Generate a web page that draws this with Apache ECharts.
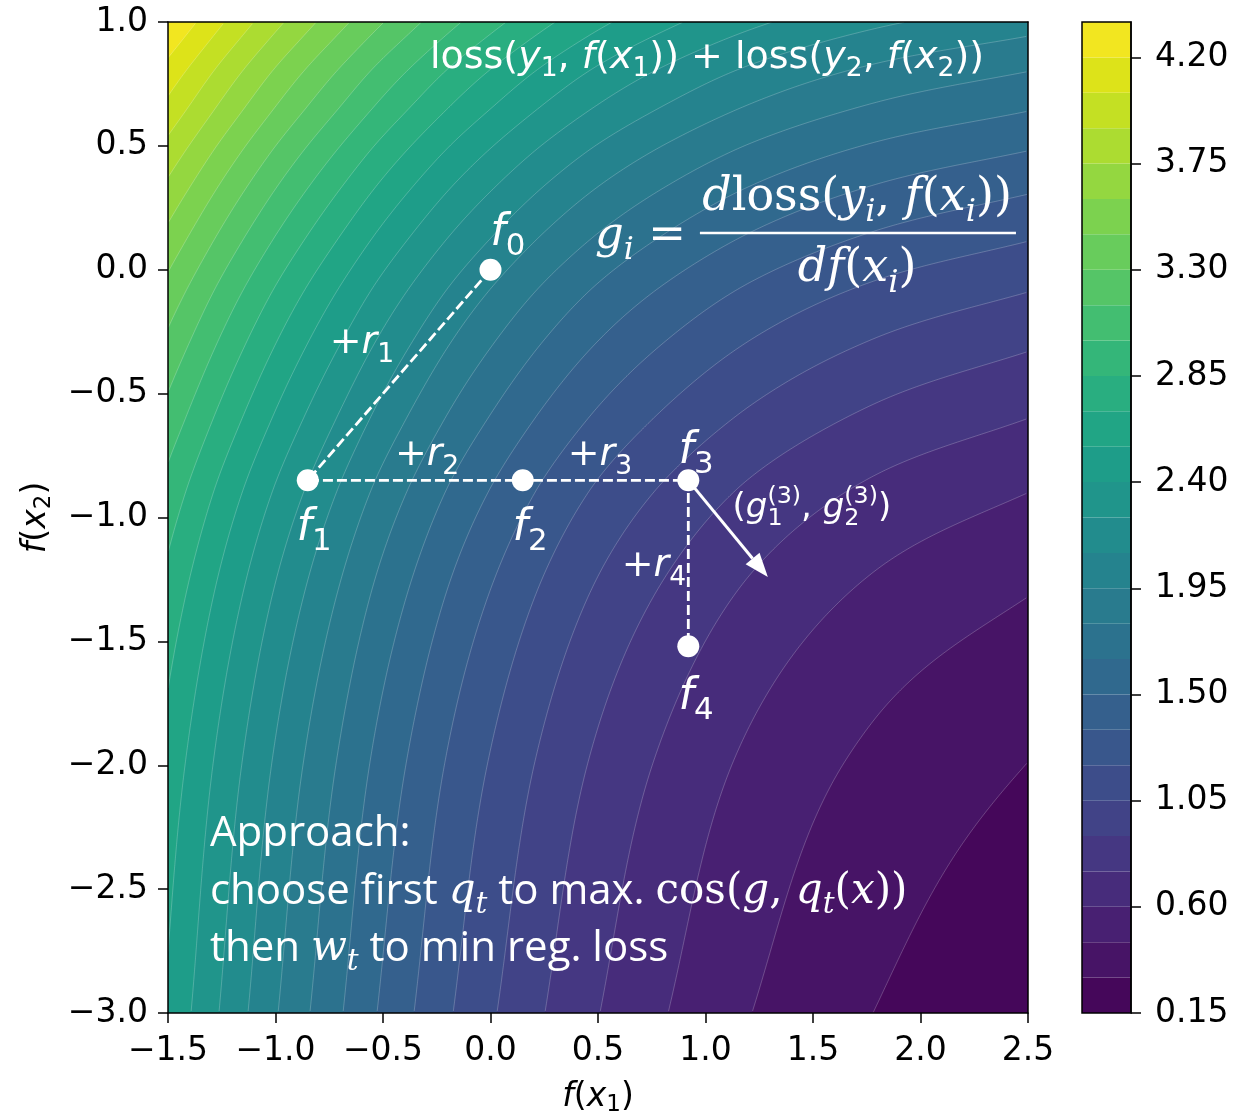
<!DOCTYPE html>
<html><head><meta charset="utf-8">
<script src="https://cdn.jsdelivr.net/npm/echarts@6/dist/echarts.min.js"></script>
<style>html,body{margin:0;padding:0;background:#fff}#c{width:1255px;height:1113px}</style>
</head><body><div id="c"></div>
<script>
// ---------------- data ----------------
// contour level boundaries (colour bar)
const contourLevels = [0.15,0.30,0.45,0.60,0.75,0.90,1.05,1.20,1.35,1.50,1.65,1.80,1.95,2.10,2.25,2.40,2.55,2.70,2.85,3.00,3.15,3.30,3.45,3.60,3.75,3.90,4.05,4.20,4.35];
const colorbarTicks = [0.15,0.60,1.05,1.50,1.95,2.40,2.85,3.30,3.75,4.20];
// where each contour level crosses the bottom edge f(x2) = -3 (value of f(x1))
const bottomEdgeLevels = [0.30,0.45,0.60,0.75,0.90,1.05,1.20,1.35,1.50,1.65,1.80,1.95,2.10,2.25,2.40];
const bottomEdgeX      = [1.779,1.216,0.826,0.509,0.253,0.030,-0.174,-0.356,-0.528,-0.686,-0.840,-0.988,-1.128,-1.263,-1.393];
// where each contour level crosses the right edge f(x1) = 2.5 (value of f(x2))
const rightEdgeLevels = [0.30,0.45,0.60,0.75,0.90,1.05,1.20,1.35,1.50,1.65,1.80,1.95];
const rightEdgeY      = [-1.987,-1.32,-0.90,-0.60,-0.33,-0.09,0.115,0.305,0.48,0.64,0.80,0.943];
// loss value in the bottom-right corner (2.5, -3)
const cornerLoss = 0.18;
// boosting steps f0..f4
const stepNames = ['0','1','2','3','4'];
const stepX = [0.0,-0.85,0.15,0.92,0.92];
const stepY = [0.0,-0.85,-0.85,-0.85,-1.52];
// gradient arrow (from f3)
const arrowFrom = [0.92,-0.85];
const arrowTo = [1.29,-1.24];
// axes
const xTicks = [-1.5,-1.0,-0.5,0.0,0.5,1.0,1.5,2.0,2.5];
const yTicks = [-3.0,-2.5,-2.0,-1.5,-1.0,-0.5,0.0,0.5,1.0];

// ---------------- colour map (viridis) ----------------
const viridisStops = ['#440154','#471365','#482475','#463480','#414487','#3b528b','#355f8d','#2f6c8e','#2a788e','#25848e','#21918c','#1e9c89','#22a884','#2fb47c','#44bf70','#5ec962','#7ad151','#9bd93c','#bddf26','#dfe318','#fde725'];
function hex2rgb(h){return [parseInt(h.substr(1,2),16),parseInt(h.substr(3,2),16),parseInt(h.substr(5,2),16)];}
const vrgb = viridisStops.map(hex2rgb);
function viridis(t){
  t=Math.max(0,Math.min(1,t));
  const p=t*(vrgb.length-1), i=Math.min(Math.floor(p),vrgb.length-2), f=p-i;
  const c=[0,1,2].map(k=>Math.round(vrgb[i][k]*(1-f)+vrgb[i+1][k]*f));
  return 'rgb('+c.join(',')+')';
}
const lvMin = contourLevels[0], lvMax = contourLevels[contourLevels.length-1];
function bandColor(lo, hi){ return viridis(((lo+hi)/2 - lvMin)/(lvMax-lvMin)); }

// ---------------- edge profiles -> contour geometry (sum of two per-point losses) ----------------
function makeMono(xs, ys){
  const n=xs.length, d=[], m=new Array(n);
  for(let i=0;i<n-1;i++) d.push((ys[i+1]-ys[i])/(xs[i+1]-xs[i]));
  m[0]=d[0]; m[n-1]=d[n-2];
  for(let i=1;i<n-1;i++) m[i]=(d[i-1]*d[i]<=0)?0:(d[i-1]+d[i])/2;
  for(let i=0;i<n-1;i++){
    if(d[i]===0){m[i]=0;m[i+1]=0;continue;}
    const a=m[i]/d[i], b=m[i+1]/d[i], s=a*a+b*b;
    if(s>9){const t=3/Math.sqrt(s); m[i]=t*a*d[i]; m[i+1]=t*b*d[i];}
  }
  return function(x){
    if(x<=xs[0]) return ys[0]+m[0]*(x-xs[0]);
    if(x>=xs[n-1]) return ys[n-1]+m[n-1]*(x-xs[n-1]);
    let lo=0, hi=n-1;
    while(hi-lo>1){const mid=(lo+hi)>>1; if(xs[mid]<=x) lo=mid; else hi=mid;}
    const h=xs[hi]-xs[lo], t=(x-xs[lo])/h, t2=t*t, t3=t2*t;
    return (2*t3-3*t2+1)*ys[lo]+(t3-2*t2+t)*h*m[lo]+(-2*t3+3*t2)*ys[hi]+(t3-t2)*h*m[hi];
  };
}
const X0=xTicks[0], X1=xTicks[xTicks.length-1], Y0=yTicks[0], Y1=yTicks[yTicks.length-1];
const bx=[], bv=[];
for(let i=bottomEdgeX.length-1;i>=0;i--){bx.push(bottomEdgeX[i]); bv.push(bottomEdgeLevels[i]);}
bx.push(X1); bv.push(cornerLoss);
const Lb = makeMono(bx,bv);            // loss along bottom edge
const Lr = makeMono([Y0].concat(rightEdgeY),[cornerLoss].concat(rightEdgeLevels)); // loss along right edge
function invert(f, target, lo, hi, inc){
  const flo=f(lo), fhi=f(hi);
  if(inc){ if(target<=flo) return lo; if(target>=fhi) return hi; }
  else { if(target>=flo) return lo; if(target<=fhi) return hi; }
  for(let k=0;k<46;k++){const mid=(lo+hi)/2, fm=f(mid); if((fm<target)===inc) lo=mid; else hi=mid;}
  return (lo+hi)/2;
}
function contourPoints(c){
  const pts=[], N=500;
  for(let k=0;k<=N;k++){
    const x=X0+(X1-X0)*k/N;
    pts.push([x, invert(Lr, c+cornerLoss-Lb(x), Y0, Y1, true)]);
    const y=Y0+(Y1-Y0)*k/N;
    pts.push([invert(Lb, c+cornerLoss-Lr(y), X0, X1, false), y]);
  }
  pts.sort((a,b)=>a[0]-b[0]||a[1]-b[1]);
  return pts;
}

// ---------------- text layout helper ----------------
const mctx=document.createElement('canvas').getContext('2d');
function fontOf(st){return (st.italic?'italic ':'')+st.size+'px "'+st.fam+'"';}
function styleFor(kind, base){
  const S=base.size;
  switch(kind){
    case 'n': return {fam:base.fam,size:S,italic:false,dy:0};
    case 'i': return {fam:base.fam,size:S,italic:true,dy:0};
    case 'M': return {fam:base.mfam,size:S,italic:false,dy:0};
    case 'I': return {fam:base.mfam,size:S,italic:true,dy:0};
    case 's': return {fam:base.fam,size:S*0.7,italic:false,dy:S*0.22};
    case 'si': return {fam:base.mfam,size:S*0.7,italic:true,dy:S*0.22};
    case 'S': return {fam:base.fam,size:S*0.7,italic:false,dy:-S*0.42,stack:true};
  }
}
function layout(parts, base){
  let x=0, lastStart=0, lastW=0; const items=[];
  for(const [t,kind] of parts){
    const st=styleFor(kind,base); mctx.font=fontOf(st);
    const w=mctx.measureText(t).width;
    if(st.stack){ items.push({t,st,x:lastStart}); x=lastStart+Math.max(lastW,w); lastW=Math.max(lastW,w); }
    else { items.push({t,st,x}); lastStart=x; lastW=w; x+=w; }
  }
  return {items,width:x};
}
const SANS='DejaVu Sans', SERIF='DejaVu Serif', TXT='Open Sans';
const fLab = {size:44,fam:SANS,mfam:SANS};
const rLab = {size:38,fam:SANS,mfam:SANS};
const fracBase = {size:46,fam:SERIF,mfam:SERIF};
const txtBase = {size:42,fam:TXT,mfam:SERIF};
const annotations = [
  {at:[1.007,0.810],align:'center',base:{size:38,fam:SANS,mfam:SANS},parts:[['loss(','n'],['y','i'],['1','s'],[', ','n'],['f','i'],['(','n'],['x','i'],['1','s'],['))','n'],[' + ','n'],['loss(','n'],['y','i'],['2','s'],[', ','n'],['f','i'],['(','n'],['x','i'],['2','s'],['))','n']]},
  {at:[0.081,0.092],align:'center',base:fLab,parts:[['f','i'],['0','s']]},
  {at:[-0.821,-1.099],align:'center',base:fLab,parts:[['f','i'],['1','s']]},
  {at:[0.184,-1.099],align:'center',base:fLab,parts:[['f','i'],['2','s']]},
  {at:[0.956,-0.788],align:'center',base:fLab,parts:[['f','i'],['3','s']]},
  {at:[0.956,-1.781],align:'center',base:fLab,parts:[['f','i'],['4','s']]},
  {at:[-0.598,-0.344],align:'center',base:rLab,parts:[['+','n'],['r','i'],['1','s']]},
  {at:[-0.295,-0.796],align:'center',base:rLab,parts:[['+','n'],['r','i'],['2','s']]},
  {at:[0.509,-0.796],align:'center',base:rLab,parts:[['+','n'],['r','i'],['3','s']]},
  {at:[0.760,-1.244],align:'center',base:rLab,parts:[['+','n'],['r','i'],['4','s']]},
  {at:[1.495,-1.002],align:'center',base:{size:34,fam:SANS,mfam:SANS},parts:[['(','n'],['g','i'],['1','s'],['(3)','S'],[', ','n'],['g','i'],['2','s'],['(3)','S'],[')','n']]},
  {at:[0.486,0.080],align:'left',base:{size:45,fam:SERIF,mfam:SERIF},parts:[['g','I'],['i','si'],[' = ','M']]},
  {at:[1.705,0.233],align:'center',base:fracBase,parts:[['d','I'],['loss(','M'],['y','I'],['i','si'],[', ','M'],['f','I'],['(','M'],['x','I'],['i','si'],['))','M']]},
  {at:[1.705,-0.053],align:'center',base:fracBase,parts:[['d','I'],['f','I'],['(','M'],['x','I'],['i','si'],[')','M']]},
  {at:[-1.305,-2.330],align:'left',base:txtBase,parts:[['Approach:','n']]},
  {at:[-1.305,-2.562],align:'left',base:txtBase,parts:[['choose first ','n'],['q','I'],['t','si'],[' to max. ','n'],['cos(','M'],['g','I'],[', ','M'],['q','I'],['t','si'],['(','M'],['x','I'],['))','M']]},
  {at:[-1.305,-2.792],align:'left',base:txtBase,parts:[['then ','n'],['w','I'],['t','si'],[' to min reg. loss','n']]}
];
const fractionBar = [[0.974,0.148],[2.444,0.148]];

function fmt1(v){return (v<0?'\u2212':'')+Math.abs(v).toFixed(1);}
const tickFont = {fontSize:33,color:'#000',fontFamily:SANS};
const axisCommon = {
  axisLine:{show:true,onZero:false,lineStyle:{color:'#000',width:1.5}},
  axisTick:{show:true,length:10,lineStyle:{color:'#000',width:1.5}},
  splitLine:{show:false}, z:10
};
const frameAxis = {axisLine:{show:true,onZero:false,lineStyle:{color:'#000',width:1.5}},axisTick:{show:false},axisLabel:{show:false},splitLine:{show:false},z:10};
const nameStyle = {fontSize:33,fontFamily:SANS,color:'#000',rich:{i:{fontSize:33,fontStyle:'italic',fontFamily:SANS},s:{fontSize:23,fontFamily:SANS,padding:[17,0,0,0],verticalAlign:'bottom'}}};

const fillLevels = contourLevels.slice(1,-1).reverse(); // 4.20 ... 0.30
const topColor = bandColor(contourLevels[contourLevels.length-2], lvMax);

const chart = echarts.init(document.getElementById('c'), null, {renderer:'canvas'});
chart.setOption({
  animation:false,
  backgroundColor:'#fff',
  grid:[
    {left:168,top:22,width:860,height:991,show:true,backgroundColor:topColor,borderWidth:0,containLabel:false,outerBoundsMode:'none'},
    {left:1082,top:22,width:49,height:991,show:false,containLabel:false,outerBoundsMode:'none'}
  ],
  xAxis:[
    Object.assign({type:'value',gridIndex:0,min:X0,max:X1,interval:0.5,position:'bottom',
      axisLabel:Object.assign({margin:22,formatter:fmt1},tickFont),
      name:'{i|f}({i|x}{s|1})',nameLocation:'middle',nameGap:64,nameTextStyle:nameStyle
    },axisCommon),
    Object.assign({type:'value',gridIndex:0,min:X0,max:X1,position:'top'},frameAxis),
    {type:'value',gridIndex:1,min:0,max:1,show:false}
  ],
  yAxis:[
    Object.assign({type:'value',gridIndex:0,min:Y0,max:Y1,interval:0.5,position:'left',
      axisLabel:Object.assign({margin:20,formatter:fmt1},tickFont),
      name:'{i|f}({i|x}{s|2})',nameLocation:'middle',nameGap:112,nameTextStyle:nameStyle
    },axisCommon),
    Object.assign({type:'value',gridIndex:0,min:Y0,max:Y1,position:'right'},frameAxis),
    {type:'value',gridIndex:1,min:lvMin,max:lvMax,position:'right',z:10,
      axisLine:{show:true,onZero:false,lineStyle:{color:'#000',width:1.5}},
      axisTick:{show:true,length:10,lineStyle:{color:'#000',width:1.5},customValues:colorbarTicks},
      axisLabel:Object.assign({margin:24,customValues:colorbarTicks,formatter:v=>v.toFixed(2)},tickFont),
      splitLine:{show:false}}
  ],
  series:[
    { // filled contours
      type:'custom',xAxisIndex:0,yAxisIndex:0,silent:true,z:1,
      data:fillLevels.map(c=>[c]),
      renderItem(params,api){
        const c=api.value(0);
        const pts=contourPoints(c);
        const poly=[api.coord([X0,Y0])];
        const line=[];
        for(const p of pts){
          const q=api.coord(p); poly.push(q);
          if(p[0]>X0+1e-9&&p[0]<X1-1e-9&&p[1]>Y0+1e-9&&p[1]<Y1-1e-9) line.push(q);
        }
        poly.push(api.coord([X1,Y0]));
        return {type:'group',children:[
          {type:'polygon',shape:{points:poly},style:{fill:bandColor(c-(contourLevels[1]-contourLevels[0]),c),stroke:null}},
          {type:'polyline',shape:{points:line},style:{stroke:'rgba(255,255,255,0.28)',lineWidth:0.8,fill:null}}
        ]};
      }
    },
    { // colour bar
      type:'custom',xAxisIndex:2,yAxisIndex:2,silent:true,z:1,
      data:contourLevels.slice(0,-1).map((lo,i)=>[lo,contourLevels[i+1]]),
      renderItem(params,api){
        const lo=api.value(0), hi=api.value(1);
        const a=api.coord([0,lo]), b=api.coord([1,hi]);
        const ch=[{type:'rect',shape:{x:a[0],y:b[1],width:b[0]-a[0],height:a[1]-b[1]},style:{fill:bandColor(lo,hi)}}];
        if(params.dataIndex===contourLevels.length-2){
          const t=api.coord([0,lvMax]), r=api.coord([1,lvMin]);
          ch.push({type:'rect',z2:10,shape:{x:t[0],y:t[1],width:r[0]-t[0],height:r[1]-t[1]},style:{fill:null,stroke:'#000',lineWidth:1.5}});
        }
        return {type:'group',children:ch};
      }
    },
    { // boosting path
      type:'line',xAxisIndex:0,yAxisIndex:0,z:5,
      data:stepX.map((x,i)=>[x,stepY[i]]),
      symbol:'circle',symbolSize:22,
      itemStyle:{color:'#fff',borderWidth:0},
      lineStyle:{color:'#fff',width:2.8,type:[10,4]}
    },
    { // gradient arrow
      type:'custom',xAxisIndex:0,yAxisIndex:0,silent:true,z:5,
      data:[[arrowFrom[0],arrowFrom[1],arrowTo[0],arrowTo[1]]],
      renderItem(params,api){
        const p0=api.coord([api.value(0),api.value(1)]), p1=api.coord([api.value(2),api.value(3)]);
        const dx=p1[0]-p0[0], dy=p1[1]-p0[1], L=Math.hypot(dx,dy), ux=dx/L, uy=dy/L;
        const hl=24, hw=9;
        const bxp=p1[0]-ux*hl, byp=p1[1]-uy*hl;
        return {type:'group',children:[
          {type:'line',shape:{x1:p0[0],y1:p0[1],x2:bxp,y2:byp},style:{stroke:'#fff',lineWidth:3}},
          {type:'polygon',shape:{points:[[p1[0],p1[1]],[bxp-uy*hw,byp+ux*hw],[bxp+uy*hw,byp-ux*hw]]},style:{fill:'#fff'}}
        ]};
      }
    },
    { // annotations
      type:'custom',xAxisIndex:0,yAxisIndex:0,silent:true,z:6,
      data:annotations.map((a,i)=>[a.at[0],a.at[1],i]),
      renderItem(params,api){
        const a=annotations[api.value(2)];
        const p=api.coord([api.value(0),api.value(1)]);
        const lay=layout(a.parts,a.base);
        const off=a.align==='center'?-lay.width/2:0;
        const ch=lay.items.map(it=>({type:'text',x:p[0]+off+it.x,y:p[1]+it.st.dy-0.3*it.st.size,
          style:{text:it.t,font:fontOf(it.st),fill:'#fff',align:'left',verticalAlign:'middle'}}));
        if(params.dataIndex===0){
          const b0=api.coord(fractionBar[0]), b1=api.coord(fractionBar[1]);
          ch.push({type:'line',shape:{x1:b0[0],y1:b0[1],x2:b1[0],y2:b1[1]},style:{stroke:'#fff',lineWidth:2.5}});
        }
        return {type:'group',children:ch};
      }
    }
  ]
});
</script></body></html>
